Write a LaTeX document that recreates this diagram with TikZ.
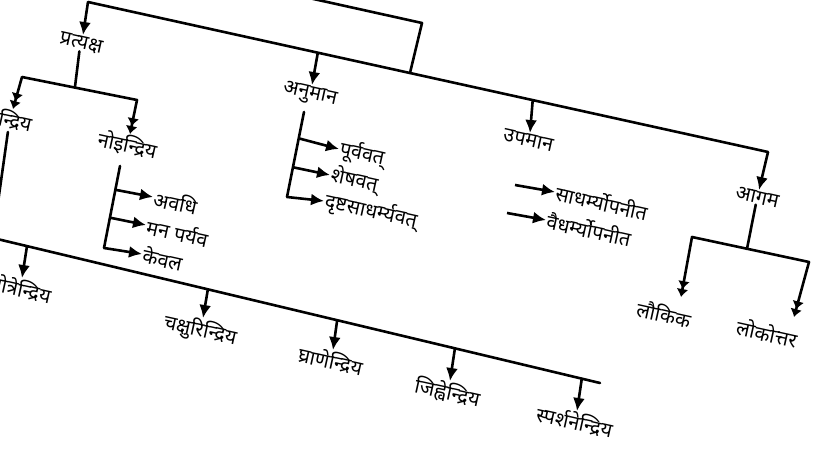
\documentclass[tikz,border=0pt]{standalone}
\usepackage{fontspec}
\newfontfamily\dev[Script=Devanagari]{Noto Sans}
\usetikzlibrary{arrows.meta,calc}
\begin{document}
\begin{tikzpicture}[x=1pt,y=-1pt,
  ln/.style={line width=2.6pt,line join=round,line cap=round},
  arr/.style={line width=2.6pt,line join=round,-{Latex[length=13pt,width=12pt]}},
  dbl/.style={line width=2.6pt,line join=round,{Latex[length=8pt,width=12pt]Latex[length=8pt,width=12pt]}-{Latex[length=8pt,width=12pt]Latex[length=8pt,width=12pt]}},
  lab/.style={font=\dev\fontsize{20}{22}\selectfont,inner sep=1pt,rotate=-12.5},
]
\useasboundingbox (0,0) rectangle (816,454);
\fill[white] (0,0) rectangle (816,454);

% top level
\coordinate (r0) at (300,-4);
\coordinate (r1) at (422,23);
\coordinate (tbL) at (88,2);
\coordinate (tbR) at (768,152);
\coordinate (tbJ) at ($(tbL)!0.4735!(tbR)$);
\coordinate (tbA) at ($(tbL)!0.338!(tbR)$);
\coordinate (tbU) at ($(tbL)!0.654!(tbR)$);
\draw[ln] (r0) -- (r1) -- (tbJ);
\draw[ln] (tbL) -- (tbR);

\node[lab,anchor=north] (pra) at (83,35) {प्रत्यक्ष};
\node[lab,anchor=north] (anu) at (312,85) {अनुमान};
\node[lab,anchor=north] (upa) at (530,133) {उपमान};
\node[lab,anchor=north] (aga) at (759,190) {आगम};
\draw[arr] (tbL) -- (pra.north);
\draw[arr] (tbA) -- (anu.north);
\draw[arr] (tbU) -- (upa.north);
\draw[arr] (tbR) -- (aga.north);

% pratyaksha
\coordinate (b2L) at (22,77);
\coordinate (b2R) at (137,100);
\coordinate (b2J) at ($(b2L)!0.46!(b2R)$);
\node[lab,anchor=north] (ind) at (13,109) {इन्द्रिय};
\node[lab,anchor=north] (noi) at (130,134) {नोइन्द्रिय};
\draw[ln] (pra.south) -- (b2J);
\draw[dbl] (ind.north) -- (b2L) -- (b2R) -- (noi.north);

% indriya -> five senses
\coordinate (bbL) at (-7,238);
\coordinate (bbR) at (600,383);
\draw[ln] (ind.south) -- (bbL) -- (bbR);
\node[lab,anchor=north] (s1) at (22,278) {श्रोत्रेन्द्रिय};
\node[lab,anchor=north] (s2) at (203,318) {चक्षुरिन्द्रिय};
\node[lab,anchor=north] (s3) at (333,350) {घ्राणेन्द्रिय};
\node[lab,anchor=north] (s4) at (450,381) {जिह्वेन्द्रिय};
\node[lab,anchor=north] (s5) at (577,411) {स्पर्शनेन्द्रिय};
\draw[arr] ($(bbL)!0.056!(bbR)$) -- (s1.north);
\draw[arr] ($(bbL)!0.354!(bbR)$) -- (s2.north);
\draw[arr] ($(bbL)!0.567!(bbR)$) -- (s3.north);
\draw[arr] ($(bbL)!0.761!(bbR)$) -- (s4.north);
\draw[arr] ($(bbL)!0.970!(bbR)$) -- (s5.north);

% noindriya
\coordinate (nS) at (120,166);
\coordinate (nC) at (104,248);
\node[lab,anchor=west] (ava) at (153,197) {अवधि};
\node[lab,anchor=west] (man) at (146,225) {मन पर्यव};
\node[lab,anchor=west] (kev) at (142,254) {केवल};
\draw[ln] (nS) -- (nC);
\draw[arr] ($(nS)!0.29!(nC)$) -- (ava.west);
\draw[arr] ($(nS)!0.63!(nC)$) -- (man.west);
\draw[arr] (nC) -- (kev.west);

% anumana
\coordinate (aS) at (304,112);
\coordinate (aC) at (287,197);
\node[lab,anchor=west] (pur) at (339,149) {पूर्ववत्};
\node[lab,anchor=west] (she) at (330,175) {शेषवत्};
\node[lab,anchor=west] (drs) at (324,201) {दृष्टसाधर्म्यवत्};
\draw[ln] (aS) -- (aC);
\draw[arr] ($(aS)!0.31!(aC)$) -- (pur.west);
\draw[arr] ($(aS)!0.65!(aC)$) -- (she.west);
\draw[arr] (aC) -- (drs.west);

% upamana
\coordinate (u1) at (515,185);
\coordinate (u2) at (507,213);
\node[lab,anchor=west] (sad) at (555,192) {साधर्म्योपनीत};
\node[lab,anchor=west] (vai) at (546,220) {वैधर्म्योपनीत};
\draw[arr] (u1) -- (sad.west);
\draw[arr] (u2) -- (vai.west);

% agama
\coordinate (b3L) at (692,237);
\coordinate (b3R) at (809,262);
\coordinate (b3J) at ($(b3L)!0.47!(b3R)$);
\coordinate (lt1) at (681,297);
\coordinate (lt2) at (794,317);
\node[lab] (lau) at (664,314) {लौकिक};
\node[lab] (lok) at (767,333) {लोकोत्तर};
\draw[ln] (aga.south) -- (b3J);
\draw[dbl] (lt1) -- (b3L) -- (b3R) -- (lt2);
\end{tikzpicture}
\end{document}
